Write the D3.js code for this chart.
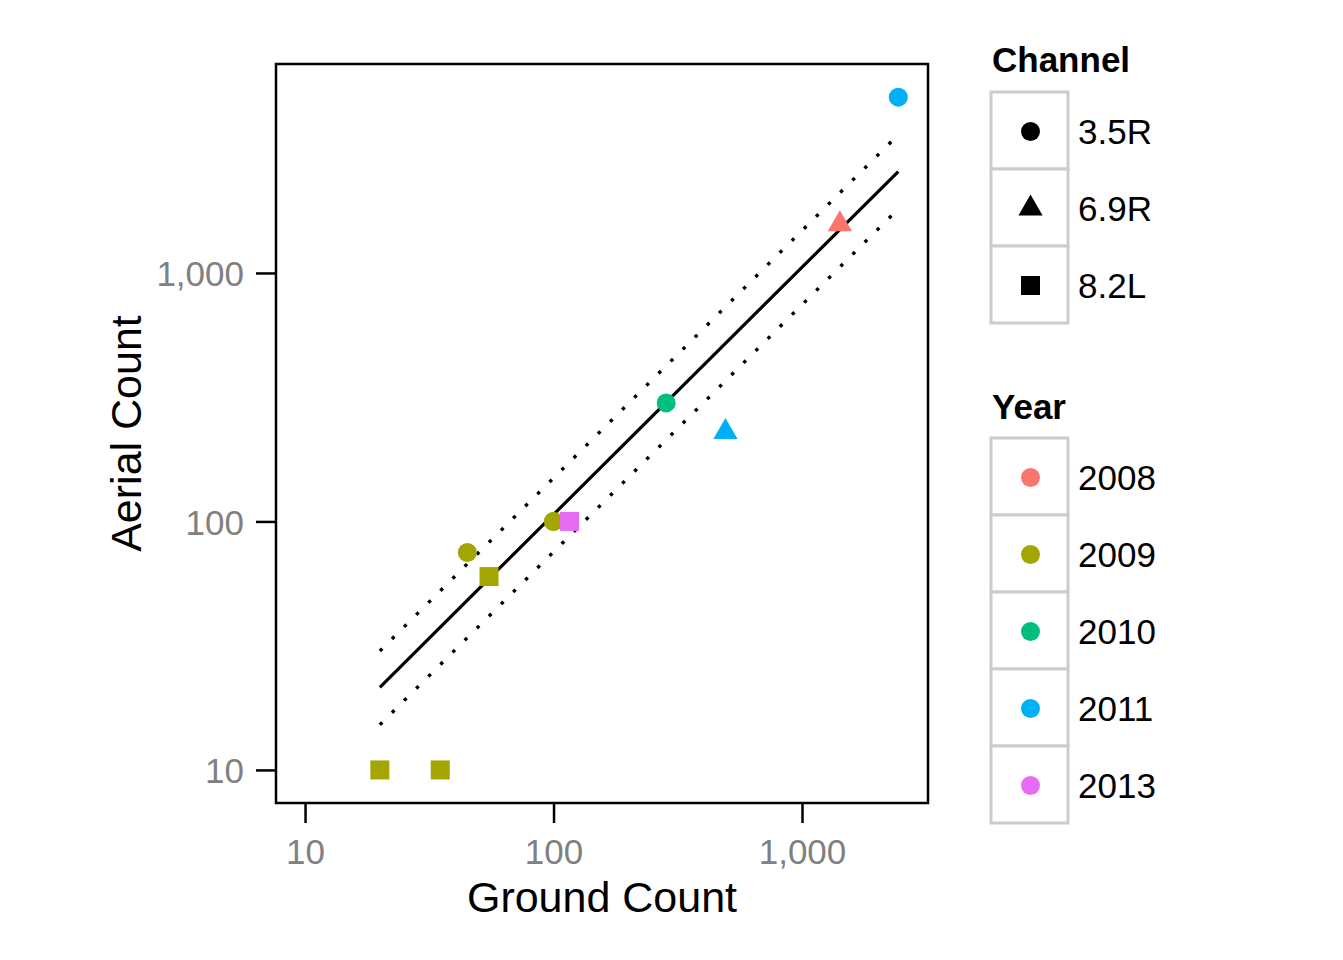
<!DOCTYPE html>
<html>
<head>
<meta charset="utf-8">
<script src="https://cdn.jsdelivr.net/npm/d3@7"></script>
<style>
  html, body { margin: 0; padding: 0; background: #fff; }
  text { font-family: "Liberation Sans", Arial, sans-serif; }
</style>
</head>
<body>
<svg id="chart" width="1343" height="960"></svg>
<script>
// ---- data ----
const channels = ["3.5R", "6.9R", "8.2L"];
const years = ["2008", "2009", "2010", "2011", "2013"];
const yearColors = ["#F8766D", "#A3A500", "#00BF7D", "#00B0F6", "#E76BF3"];

const pointChannel = ["3.5R", "8.2L", "8.2L", "3.5R", "8.2L", "3.5R", "6.9R", "3.5R", "6.9R", "3.5R", "8.2L"];
const pointYear    = ["2009", "2009", "2009", "2009", "2009", "2009", "2008", "2010", "2011", "2011", "2013"];
const groundCount  = [45, 55, 20, 100, 35, 100, 1420, 284, 492, 2440, 116];
const aerialCount  = [75, 60, 10, 100, 10, 100, 1570, 300, 229, 5100, 100];

const fitGround = [20, 2440];
const fitAerial = [21.5, 2560];
const upperAerial = [30.1, 3600];
const lowerAerial = [15.2, 1810];

const xTicks = [10, 100, 1000];
const yTicks = [10, 100, 1000];
const xTitle = "Ground Count";
const yTitle = "Aerial Count";

// ---- layout ----
const svg = d3.select("#chart");
const panel = { left: 276, right: 928, top: 64, bottom: 803 };

const x = d3.scaleLog().domain([7.64, 3214]).range([panel.left, panel.right]);
const y = d3.scaleLog().domain([7.36, 6933]).range([panel.bottom, panel.top]);
const color = d3.scaleOrdinal().domain(years).range(yearColors);
const fmt = d3.format(",");

// panel background
svg.append("rect")
  .attr("x", panel.left).attr("y", panel.top)
  .attr("width", panel.right - panel.left).attr("height", panel.bottom - panel.top)
  .attr("fill", "#fff");

// axes
const xAxis = d3.axisBottom(x).tickValues(xTicks).tickFormat(fmt).tickSizeInner(20).tickSizeOuter(0).tickPadding(10);
const yAxis = d3.axisLeft(y).tickValues(yTicks).tickFormat(fmt).tickSizeInner(20).tickSizeOuter(0).tickPadding(12);

const gx = svg.append("g").attr("transform", `translate(0,${panel.bottom})`).call(xAxis);
const gy = svg.append("g").attr("transform", `translate(${panel.left},0)`).call(yAxis);
[gx, gy].forEach(g => {
  g.select(".domain").remove();
  g.selectAll(".tick line").attr("stroke", "#000").attr("stroke-width", 2.5);
  g.selectAll(".tick text").attr("fill", "#808080").style("font-size", "35px")
    .style("font-family", '"Liberation Sans", Arial, sans-serif');
});
gx.selectAll(".tick text").attr("dy", null).attr("y", 61);
gy.selectAll(".tick text").attr("dy", "0.36em");

// lines
const lineGen = d3.line().x(d => x(d[0])).y(d => y(d[1]));
const fitPts = fitGround.map((g, i) => [g, fitAerial[i]]);
const upPts = fitGround.map((g, i) => [g, upperAerial[i]]);
const loPts = fitGround.map((g, i) => [g, lowerAerial[i]]);

svg.append("path").datum(fitPts).attr("d", lineGen)
  .attr("fill", "none").attr("stroke", "#000").attr("stroke-width", 3.2);
[upPts, loPts].forEach(p => {
  svg.append("path").datum(p).attr("d", lineGen)
    .attr("fill", "none").attr("stroke", "#000").attr("stroke-width", 3.4)
    .attr("stroke-dasharray", "3.4,13.7");
});

// shapes
const R = 9.5;
function shapePath(ch) {
  if (ch === "3.5R") {
    return `M${-R},0A${R},${R} 0 1,0 ${R},0A${R},${R} 0 1,0 ${-R},0Z`;
  } else if (ch === "6.9R") {
    const Rt = 9.0;
    const r = 1.555 * Rt, xc = 1.347 * Rt, yc = 0.778 * Rt;
    return `M0,${-r}L${xc},${yc}L${-xc},${yc}Z`;
  } else {
    return `M${-R},${-R}H${R}V${R}H${-R}Z`;
  }
}

const pts = groundCount.map((g, i) => ({ g, a: aerialCount[i], ch: pointChannel[i], yr: pointYear[i] }));
svg.append("g").selectAll("path").data(pts).join("path")
  .attr("transform", d => `translate(${x(d.g)},${y(d.a)})`)
  .attr("d", d => shapePath(d.ch))
  .attr("fill", d => color(d.yr));

// panel border
svg.append("rect")
  .attr("x", panel.left).attr("y", panel.top)
  .attr("width", panel.right - panel.left).attr("height", panel.bottom - panel.top)
  .attr("fill", "none").attr("stroke", "#000").attr("stroke-width", 2.5);

// axis titles
svg.append("text").attr("x", (panel.left + panel.right) / 2).attr("y", 912)
  .attr("text-anchor", "middle").style("font-size", "43px").attr("fill", "#000").text(xTitle);
svg.append("text").attr("transform", `translate(141,${(panel.top + panel.bottom) / 2}) rotate(-90)`)
  .attr("text-anchor", "middle").style("font-size", "43px").attr("fill", "#000").text(yTitle);

// legends
const keyX = 991, keyW = 77, keyH = 77;
function legend(title, titleY, keysTop, items, shapeFn, colorFn) {
  svg.append("text").attr("x", 992).attr("y", titleY)
    .style("font-size", "35px").style("font-weight", "bold").attr("fill", "#000").text(title);
  items.forEach((it, i) => {
    const top = keysTop + i * keyH;
    svg.append("rect").attr("x", keyX).attr("y", top).attr("width", keyW).attr("height", keyH)
      .attr("fill", "#fff").attr("stroke", "#CCCCCC").attr("stroke-width", 3);
    svg.append("path").attr("transform", `translate(${keyX + keyW / 2 + 1},${top + keyH / 2 + 1})`)
      .attr("d", shapeFn(it)).attr("fill", colorFn(it));
    svg.append("text").attr("x", 1078).attr("y", top + keyH / 2 + 13)
      .style("font-size", "35px").attr("fill", "#000").text(it);
  });
}
legend("Channel", 72, 92, channels, ch => shapePath(ch), () => "#000");
legend("Year", 419, 438, years, () => shapePath("3.5R"), yr => color(yr));
</script>
</body>
</html>
